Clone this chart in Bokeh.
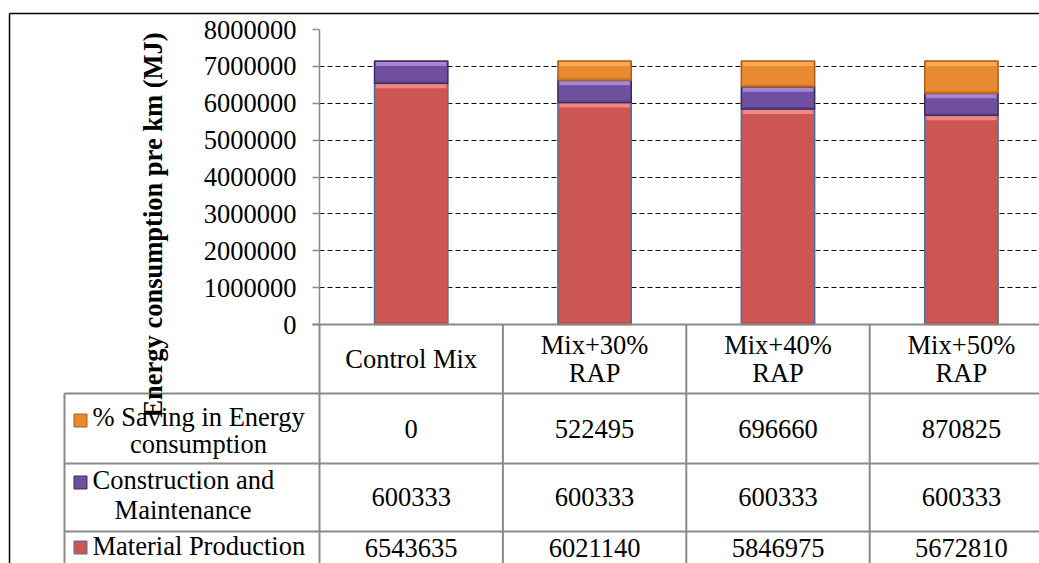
import numpy as np
from bokeh.plotting import figure
from bokeh.models import Range1d, FixedTicker, NumeralTickFormatter
from bokeh.core.properties import value
from bokeh.embed import file_html
from bokeh.resources import INLINE

# ---------------- data ----------------
categories = ["Control Mix", "Mix+30%\nRAP", "Mix+40%\nRAP", "Mix+50%\nRAP"]
material_production = [6543635, 6021140, 5846975, 5672810]
construction_maintenance = [600333, 600333, 600333, 600333]
saving_energy = [0, 522495, 696660, 870825]
series_names = ["Material Production", "Construction and\nMaintenance", "% Saving in Energy\nconsumption"]
y_ticks = [0, 1000000, 2000000, 3000000, 4000000, 5000000, 6000000, 7000000, 8000000]
y_title = "Energy consumption pre km (MJ)"

# ---------------- layout (page pixels) ----------------
PAGE = 0
W, H = 1039, 563
FRAME_L, FRAME_T, FRAME_R, FRAME_B = 319, 29, 1039, 563
ZERO_Y = 324
COL_W = 183.4
BAR_W = 0.40
FONT = "Liberation Serif"
FS = "26.5px"
GRAY = "#8A8A8A"

y_max = y_ticks[-1]
px_per_unit = (ZERO_Y - FRAME_T) / y_max
y_start = -(FRAME_B - ZERO_Y) / px_per_unit

p = figure(width=W, height=H, output_backend="svg", toolbar_location=None, tools="",
           x_range=Range1d(0, (FRAME_R - FRAME_L) / COL_W),
           y_range=Range1d(y_start, y_max),
           x_axis_location=None, title=None,
           min_border_left=FRAME_L - PAGE, min_border_top=FRAME_T - PAGE,
           min_border_right=0, min_border_bottom=0)
p.outline_line_color = None
p.background_fill_color = "white"
p.border_fill_color = "white"
p.extra_x_ranges = {"px": Range1d(FRAME_L, FRAME_R)}
p.extra_y_ranges = {"py": Range1d(FRAME_B, FRAME_T)}

# y axis
ax = p.yaxis[0]
ax.ticker = FixedTicker(ticks=y_ticks)
ax.bounds = (0, y_max)
ax.formatter = NumeralTickFormatter(format="0")
ax.axis_line_color = GRAY
ax.axis_line_width = 1.5
ax.major_tick_line_color = GRAY
ax.major_tick_line_width = 1.5
ax.major_tick_out = 7
ax.major_tick_in = 0
ax.minor_tick_line_color = None
ax.major_label_text_font = FONT
ax.major_label_text_font_size = FS
ax.major_label_text_color = "#000000"
ax.major_label_standoff = 16

p.xgrid.visible = False
p.ygrid.ticker = FixedTicker(ticks=y_ticks[1:])
p.ygrid.grid_line_color = "#111111"
p.ygrid.grid_line_dash = "5 3"
p.ygrid.grid_line_width = 1.2

# ---------------- bars ----------------
series_values = [material_production, construction_maintenance, saving_energy]
fills = ["#CD5653", "#6F50A0", "#E98A2E"]
highlights = ["#EE8884", "#A985D6", "#F7AA55"]
shades = ["#B44744", "#5B4086", "#C9721F"]
outlines = ["#4A6FA5", "#3E2C58", "#A85F1C"]
bottom = np.zeros(len(categories))
hl = 5 / px_per_unit
edge = 2 / px_per_unit
for vals, fc, hc, sc, lc in zip(series_values, fills, highlights, shades, outlines):
    vals = np.array(vals, dtype=float)
    top = bottom + vals
    m = vals > 0
    xs = np.arange(len(categories))[m] + 0.5
    p.vbar(x=xs, bottom=bottom[m], top=top[m], width=BAR_W, fill_color=fc,
           line_color=lc, line_width=1.5)
    p.vbar(x=xs, bottom=top[m] - hl, top=top[m] - 1 / px_per_unit, width=BAR_W * 0.96,
           fill_color=hc, line_color=None)
    p.vbar(x=xs, bottom=bottom[m] + 1 / px_per_unit, top=bottom[m] + edge, width=BAR_W * 0.96,
           fill_color=sc, line_color=None)
    bottom = top

# ---------------- data table ----------------
n = len(categories)
row_bounds = [393, 463, 531]
p.segment(x0=[312] + [64] * len(row_bounds), x1=[1045] * (1 + len(row_bounds)),
          y0=[ZERO_Y] + row_bounds, y1=[ZERO_Y] + row_bounds,
          x_range_name="px", y_range_name="py", line_color=GRAY, line_width=2, level="overlay")
p.segment(x0=[64], x1=[64], y0=[row_bounds[0]], y1=[575],
          x_range_name="px", y_range_name="py", line_color=GRAY, line_width=2, level="overlay")
p.segment(x0=list(range(n)), x1=list(range(n)), y0=[ZERO_Y] * n, y1=[575] * n,
          y_range_name="py", line_color=GRAY, line_width=2, level="overlay")

txt = dict(text_font=value(FONT), text_font_size=value(FS), text_baseline="middle",
           text_color="#000000", level="overlay")

# header (category names)
hx, hy, ht = [], [], []
for i, c in enumerate(categories):
    lines = c.split("\n")
    for k, ln in enumerate(lines):
        hx.append(i + 0.5)
        hy.append(358.5 + (k - (len(lines) - 1) / 2) * 28.5)
        ht.append(ln)
p.text(x=hx, y=hy, text=ht, y_range_name="py", text_align="center", **txt)

# values rows (top to bottom: saving, construction, material)
row_series = [saving_energy, construction_maintenance, material_production]
row_centers = [428.5, 496.5, 547]
vx, vy, vt = [], [], []
for vals, yc in zip(row_series, row_centers):
    for i, v in enumerate(vals):
        vx.append(i + 0.5)
        vy.append(yc)
        vt.append(str(v))
p.text(x=vx, y=vy, text=vt, y_range_name="py", text_align="center", **txt)

# row labels with legend keys
row_names = [series_names[2], series_names[1], series_names[0]]
row_fills = [fills[2], fills[1], fills[0]]
row_lines = [outlines[2], outlines[1], "#4A6FA5"]
label_first_y = [416, 479, 545]
label_second = [(198, 443), (182.5, 509), None]
key_y = [420, 482, 547]
p.rect(x=[80] * 3, y=key_y, width=13, height=13, width_units="screen", height_units="screen",
       x_range_name="px", y_range_name="py", fill_color=row_fills, line_color=row_lines,
       line_width=1, level="overlay")
l1x, l1y, l1t, l2x, l2y, l2t = [], [], [], [], [], []
for name, y1, sec in zip(row_names, label_first_y, label_second):
    parts = name.split("\n")
    l1x.append(92); l1y.append(y1); l1t.append(parts[0])
    if len(parts) > 1:
        l2x.append(sec[0]); l2y.append(sec[1]); l2t.append(parts[1])
p.text(x=l1x, y=l1y, text=l1t, x_range_name="px", y_range_name="py", text_align="left", **txt)
p.text(x=l2x, y=l2y, text=l2t, x_range_name="px", y_range_name="py", text_align="center", **txt)

# outer chart border (black)
p.segment(x0=[9, 9], x1=[9, 1045], y0=[13, 13], y1=[575, 13], x_range_name="px",
          y_range_name="py", line_color="#000000", line_width=1.5, level="overlay")

# y axis title
p.text(x=[152], y=[224.5], text=[y_title], angle=np.pi / 2, x_range_name="px",
       y_range_name="py", text_font_style="bold", text_align="center", **txt)

open("out.html", "w").write(file_html(p, INLINE))
